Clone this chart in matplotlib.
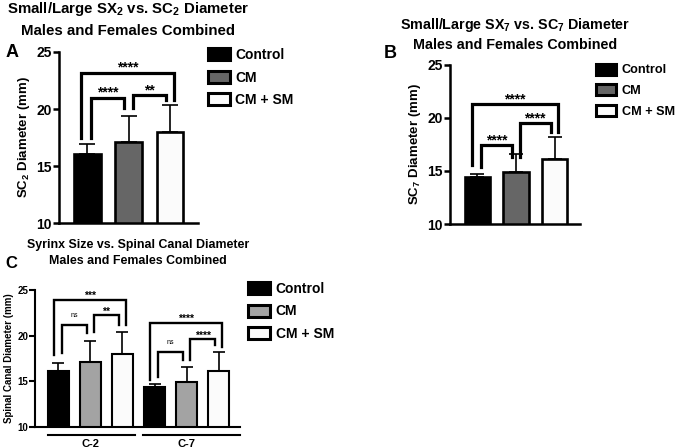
import matplotlib
matplotlib.use('Agg')
import matplotlib.pyplot as plt
from matplotlib.patches import Patch
from matplotlib.transforms import blended_transform_factory

plt.rcParams['font.family'] = ['Liberation Sans', 'DejaVu Sans']
plt.rcParams['font.weight'] = 'bold'
plt.rcParams['mathtext.fontset'] = 'custom'
plt.rcParams['mathtext.rm'] = 'Liberation Sans:bold'
plt.rcParams['mathtext.bf'] = 'Liberation Sans:bold'

groups = ['Control', 'CM', 'CM + SM']
levels = ['C-2', 'C-7']

sc2_mean = [16.1, 17.15, 18.0]
sc2_err = [0.85, 2.25, 2.35]
sc7_mean = [14.4, 14.95, 16.1]
sc7_err = [0.35, 1.65, 2.1]

# significance brackets: (bar i, bar j, top, left foot, right foot, label)
sig_sc2 = [(0, 2, 23.2, 17.5, 20.8, '****'),
           (0, 1, 21.0, 17.5, 20.1, '****'),
           (1, 2, 21.2, 20.1, 20.8, '**')]
sig_sc7 = [(0, 2, 21.3, 15.6, 18.7, '****'),
           (0, 1, 17.45, 15.4, 16.3, '****'),
           (1, 2, 19.5, 16.3, 18.7, '****')]
sig_c = [(0, 2, 23.9, 17.9, 21.2, '***'),
         (0, 1, 21.2, 18.1, 20.3, 'ns'),
         (1, 2, 22.2, 20.4, 21.2, '**'),
         (3, 5, 21.4, 15.1, 18.75, '****'),
         (3, 4, 18.2, 15.5, 17.3, 'ns'),
         (4, 5, 19.6, 17.3, 19.0, '****')]

col_ctrl = '#000000'
col_cm_dark = '#666666'
col_cm_light = '#a3a3a3'
col_sm = '#fbfbfb'


def style_axis(ax, fs, lw):
    for s in ['top', 'right']:
        ax.spines[s].set_visible(False)
    for s in ['left', 'bottom']:
        ax.spines[s].set_linewidth(lw)
    ax.set_ylim(10, 25)
    ax.set_yticks([10, 15, 20, 25])
    ax.tick_params(axis='y', direction='out', length=4, width=lw, labelsize=fs, pad=1)
    ax.tick_params(axis='x', length=0)
    ax.set_xticks([])
    for t in ax.get_yticklabels():
        t.set_fontweight('bold')


def draw_bars(ax, xs, means, errs, colors, lw, cap):
    ax.bar(xs, means, width=0.65, color=colors, edgecolor='black', linewidth=lw, zorder=2)
    ax.errorbar(xs, means, yerr=[[0] * len(errs), errs], fmt='none', ecolor='black',
                elinewidth=1.2, capsize=cap, capthick=1.2, zorder=1)


def draw_sig(ax, sigs, lw, fs, ns_fs):
    for i, j, top, yl, yr, lab in sigs:
        if j - i > 1:
            x1, x2 = i - 0.15, j + 0.1
        else:
            x1, x2 = i + 0.1, j - 0.1
        ax.plot([x1, x1, x2, x2], [yl, top, top, yr], color='black', lw=lw,
                solid_joinstyle='miter', clip_on=False, zorder=3)
        if lab == 'ns':
            ax.annotate(lab, ((x1 + x2) / 2, top), xytext=(0, 4), textcoords='offset points',
                        ha='center', va='bottom', fontsize=ns_fs, fontweight='normal')
        else:
            ax.annotate(lab, ((x1 + x2) / 2, top), xytext=(0, 0.5), textcoords='offset points',
                        ha='center', va='baseline', fontsize=fs, fontweight='bold')


def add_legend(fig, x, y, colors, fs, lw):
    handles = [Patch(facecolor=c, edgecolor='black', linewidth=lw) for c in colors]
    fig.legend(handles, groups, loc='upper left', bbox_to_anchor=(x, y),
               bbox_transform=fig.transFigure, frameon=False,
               handlelength=1.6, handleheight=0.95, handletextpad=0.4,
               labelspacing=0.62, borderpad=0, borderaxespad=0,
               prop={'weight': 'bold', 'size': fs})


fig = plt.figure(figsize=(6.76, 4.48), dpi=100)

# Panel A
axA = fig.add_axes([0.0873, 0.502, 0.2056, 0.382])
colsA = [col_ctrl, col_cm_dark, col_sm]
draw_bars(axA, range(3), sc2_mean, sc2_err, colsA, 1.9, 5.5)
style_axis(axA, 10, 1.8)
axA.set_xlim(-0.675, 2.675)
axA.set_ylabel(r'SC$_{2}$ Diameter (mm)', fontsize=9.5, fontweight='bold', labelpad=3)
draw_sig(axA, sig_sc2, 2.3, 10, 6)
add_legend(fig, 0.307, 0.893, colsA, 10, 2.2)
fig.text(0.19, 0.981, r'Small/Large SX$_{2}$ vs. SC$_{2}$ Diameter', ha='center', va='center',
         fontsize=10.8)
fig.text(0.19, 0.93, 'Males and Females Combined', ha='center', va='center', fontsize=10.8)
fig.text(0.018, 0.882, 'A', ha='center', va='center', fontsize=13)

# Panel B
axB = fig.add_axes([0.6657, 0.5, 0.1923, 0.355])
colsB = [col_ctrl, col_cm_dark, col_sm]
draw_bars(axB, range(3), sc7_mean, sc7_err, colsB, 1.9, 5)
style_axis(axB, 10, 1.8)
axB.set_xlim(-0.71, 2.66)
axB.set_ylabel(r'SC$_{7}$ Diameter (mm)', fontsize=9.5, fontweight='bold', labelpad=3)
draw_sig(axB, sig_sc7, 2.3, 10, 6)
add_legend(fig, 0.882, 0.858, colsB, 9.1, 2.2)
fig.text(0.762, 0.944, r'Small/Large SX$_{7}$ vs. SC$_{7}$ Diameter', ha='center', va='center',
         fontsize=10.3)
fig.text(0.762, 0.9, 'Males and Females Combined', ha='center', va='center', fontsize=10.3)
fig.text(0.577, 0.88, 'B', ha='center', va='center', fontsize=13)

# Panel C
axC = fig.add_axes([0.0518, 0.0469, 0.3033, 0.306])
colsC = [col_ctrl, col_cm_light, col_sm]
xs = [0, 1, 2, 3, 4, 5]
draw_bars(axC, xs, sc2_mean + sc7_mean, sc2_err + sc7_err, colsC * 2, 1.5, 4)
style_axis(axC, 7, 1.5)
axC.set_xlim(-0.73, 5.67)
axC.set_ylabel('Spinal Canal Diameter (mm)', fontsize=7, fontweight='bold', labelpad=2)
draw_sig(axC, sig_c, 1.7, 7.5, 5)
trans = blended_transform_factory(axC.transData, axC.transAxes)
group_span = [(-0.33, 2.4), (2.65, 5.67)]
for k, lev in enumerate(levels):
    lo, hi = group_span[k]
    axC.plot([lo, hi], [-0.058, -0.058], color='black', lw=1.5, transform=trans, clip_on=False)
    axC.text(3 * k + 1, -0.125, lev, transform=trans, ha='center', va='center',
             fontsize=8, fontweight='bold')
add_legend(fig, 0.367, 0.371, colsC, 10, 2.2)
fig.text(0.204, 0.453, 'Syrinx Size vs. Spinal Canal Diameter', ha='center', va='center',
         fontsize=8.9)
fig.text(0.204, 0.418, 'Males and Females Combined', ha='center', va='center', fontsize=8.9)
fig.text(0.016, 0.412, 'C', ha='center', va='center', fontsize=12)

fig.savefig('out.png', dpi=100)
